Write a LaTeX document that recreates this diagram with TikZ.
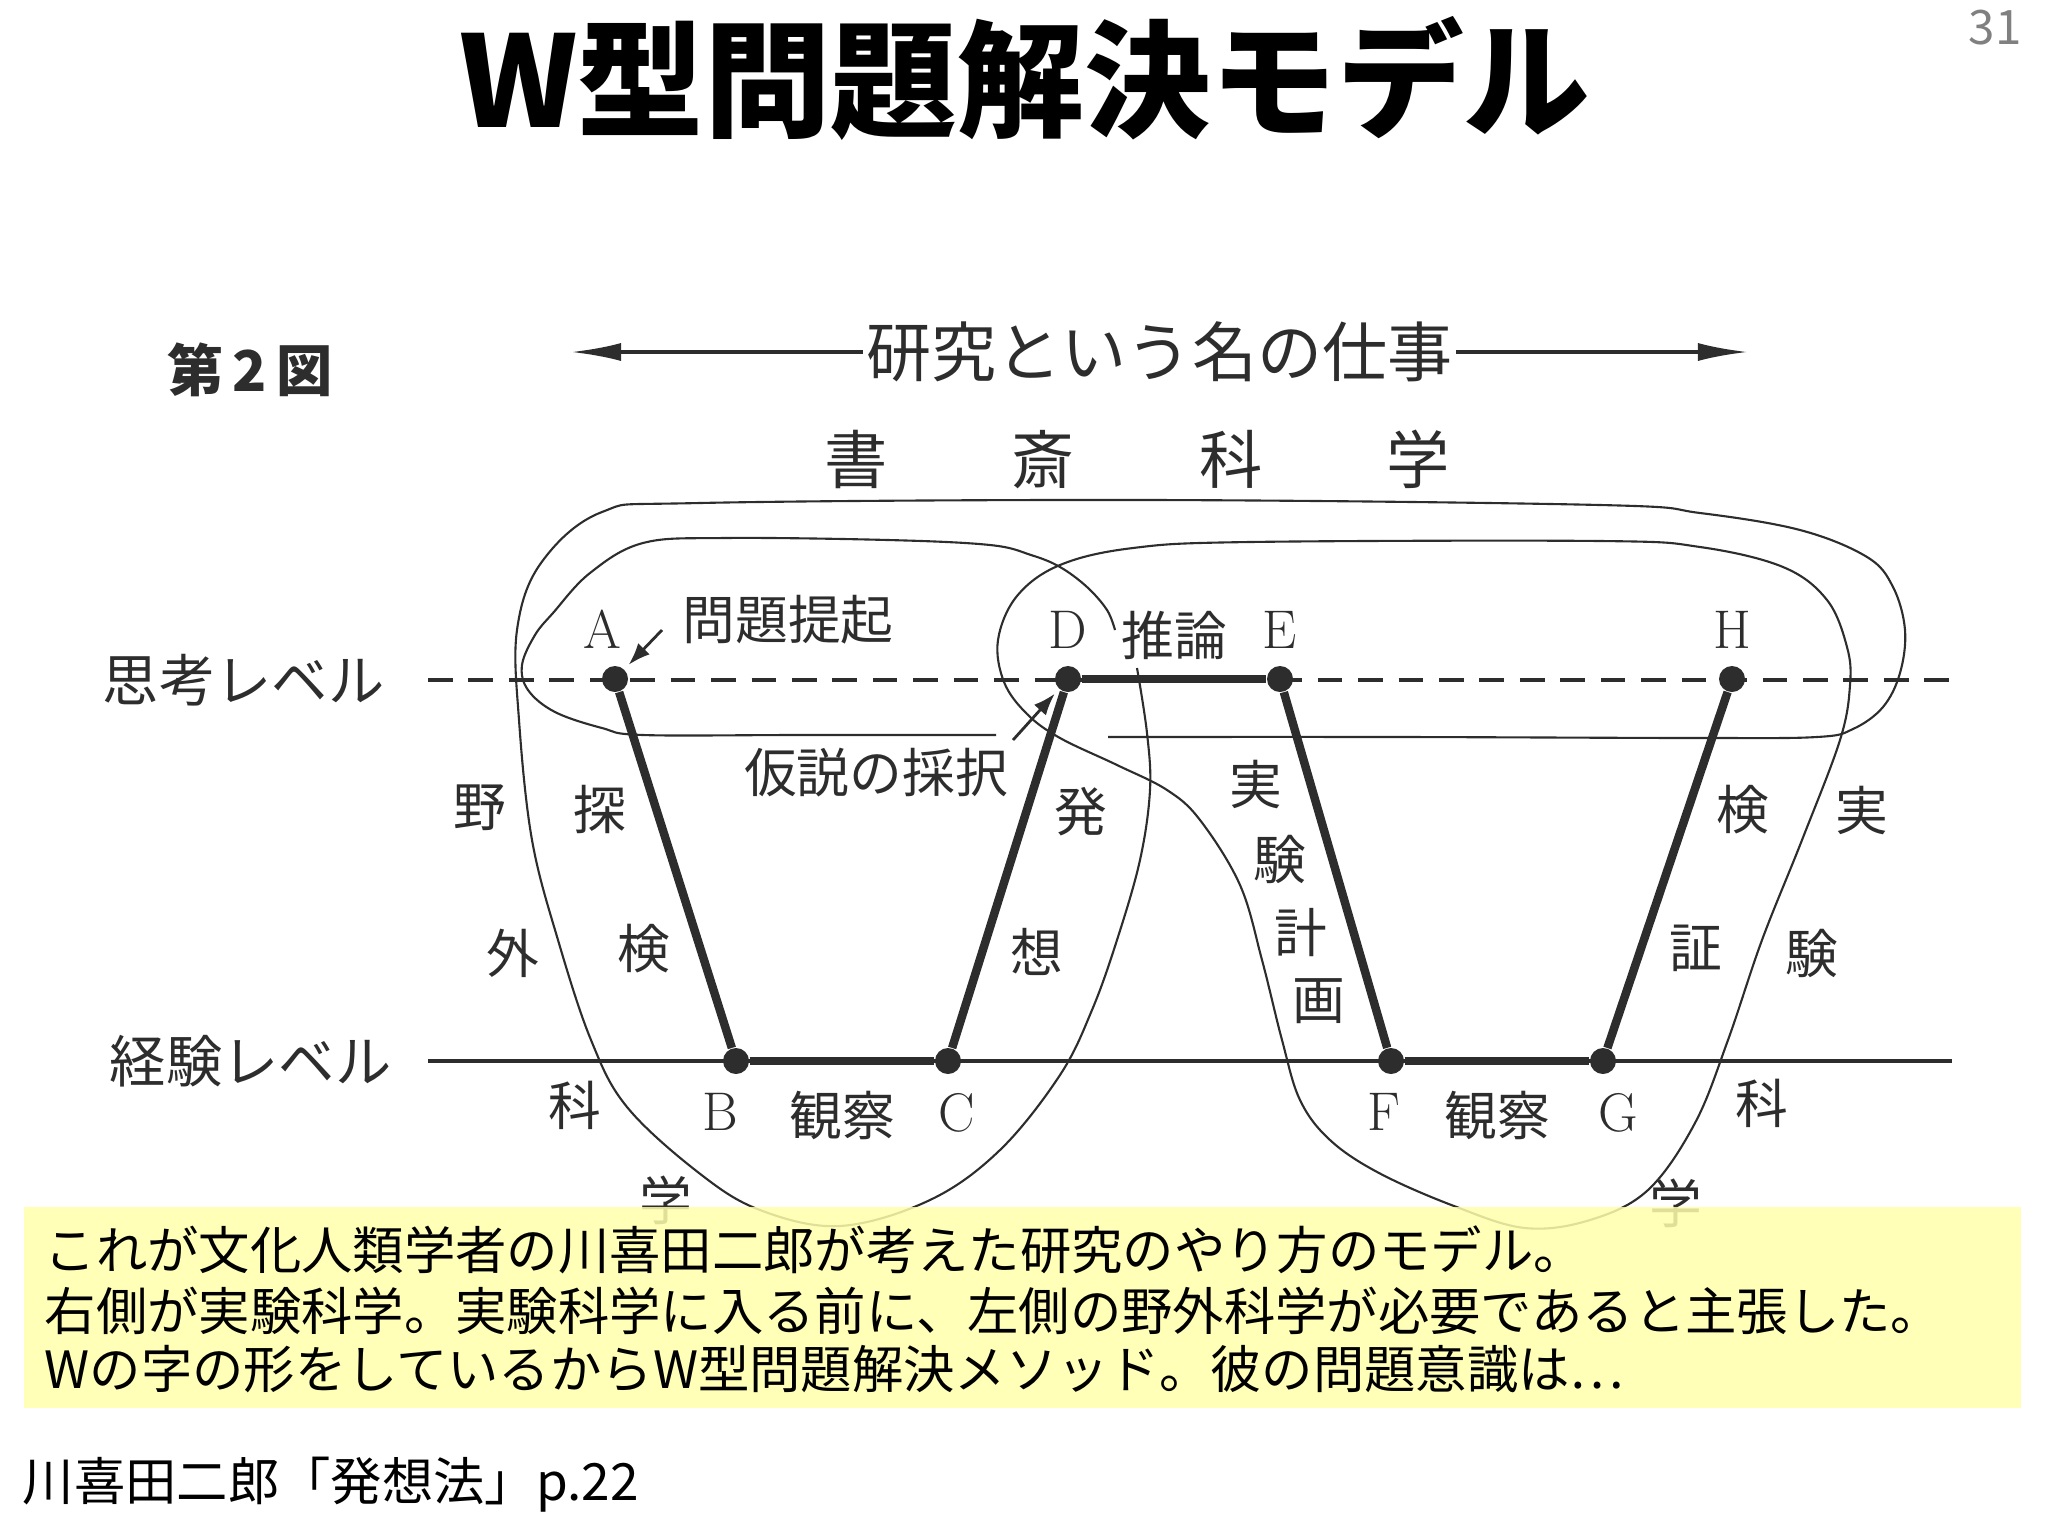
\documentclass[tikz,border=0pt]{standalone}
\usepackage{fontspec}
\newfontfamily\jp{Noto Sans CJK JP}
\usetikzlibrary{arrows.meta}
\usetikzlibrary{positioning}

\definecolor{ink}{RGB}{45,45,45}
\definecolor{memo}{RGB}{255,255,170}

\tikzset{
  wdot/.style={circle,fill=ink,inner sep=0pt,minimum size=2.6mm},
  wline/.style={draw=ink,line width=2.4pt},
  ringline/.style={draw=ink,line width=0.6pt},
  ptlabel/.style={text=ink,inner sep=0pt,font=\fontsize{15.5}{15.5}\selectfont},
  kanji/.style={text=ink,inner sep=0pt,font=\jp\fontsize{15}{15}\selectfont},
  lvtext/.style={text=ink,inner sep=0pt,font=\jp\fontsize{16}{16}\selectfont},
  memotext/.style={inner sep=0pt,anchor=west,font=\jp\fontsize{14.6}{14.6}\selectfont},
  smallarrow/.style={draw=ink,line width=0.8pt,-{Latex[length=2.2mm,width=1.6mm]},shorten >=0.6mm},
  hdarrow/.style={draw=ink,line width=1pt,{Latex[length=5mm,width=1.8mm]}-{Latex[length=5mm,width=1.8mm]}}
}

\begin{document}
\begin{tikzpicture}[x=0.01cm,y=-0.01cm]
   \useasboundingbox (0,0) rectangle (2048,1536);
   % title and page number
   \node (title) at (1025,78) {\jp\bfseries\fontsize{36}{36}\selectfont W型問題解決モデル};
   \node[text=black!50] (page) at (1995,28) {\jp\fontsize{13.5}{13.5}\selectfont 31};

   % header of the figure
   \node[kanji,font=\jp\bfseries\fontsize{16}{16}\selectfont] (fig) at (250,370) {第\,2\,図};
   \coordinate (hd_l) at (571,352);
   \coordinate (hd_r) at (1748,352);
   \draw[hdarrow] (hd_l) -- node[kanji,fill=white,inner xsep=1pt,font=\jp\fontsize{18.5}{18.5}\selectfont] (work) {研究という名の仕事} (hd_r);
   \node[kanji,font=\jp\fontsize{18}{18}\selectfont] (shosai) at (1137,459) {書\hspace{12.4mm}斎\hspace{12.4mm}科\hspace{12.4mm}学};

   % the two levels
   \coordinate (th_l) at (428,680);
   \coordinate (th_r) at (1952,680);
   \coordinate (ex_l) at (428,1061);
   \coordinate (ex_r) at (1952,1061);
   \draw[ink,line width=1.1pt,dash pattern=on 7pt off 4.5pt] (th_l) -- (th_r);
   \draw[ink,line width=1.2pt] (ex_l) -- (ex_r);
   \node[lvtext,left=4.3mm of th_l] (think) {思考レベル};
   \node[lvtext,left=3.6mm of ex_l] (exper) {経験レベル};

   % loops
   \draw[ringline] plot[smooth,tension=0.6] coordinates {(1108,737) (1400,737) (1700,738) (1817,737) (1853,729) (1883,707) (1900,673) (1905,630) (1893,587) (1867,557) (1800,530) (1700,513) (1600,505) (1150,500) (700,503) (602,512) (541,563) (517,630) (519,720) (532,840) (558,940) (591,1040) (627,1107) (699,1173) (760,1210) (840,1226) (930,1200) (1000,1150) (1060,1075) (1092,1010) (1117,940) (1140,860) (1150,790) (1147,733) (1137,668)};
   \draw[ringline] plot[smooth,tension=0.6] coordinates {(996,735) (800,735) (643,735) (602,728) (555,712) (528,690) (522,665) (535,635) (553,613) (590,573) (643,543) (725,538) (888,540) (990,545) (1031,555) (1060,567) (1087,587) (1107,610) (1115,630)};
   \draw[ringline] plot[smooth cycle,tension=0.6] coordinates {(1200,820) (1167,790) (1117,765) (1060,738) (1027,714) (1004,682) (998,640) (1017,596) (1060,565) (1133,548) (1250,542) (1600,541) (1700,547) (1783,567) (1827,600) (1847,647) (1850,685) (1840,740) (1802,840) (1762,940) (1728,1040) (1695,1123) (1648,1190) (1590,1220) (1525,1228) (1454,1206) (1379,1173) (1330,1140) (1300,1100) (1282,1040) (1262,960) (1240,885)};

   % field science / experimental science
   \node[kanji] (ya) at (480,808) {野};
   \node[kanji] (gai) at (513,953) {外};
   \node[kanji] (ka_l) at (575,1105) {科};
   \node[kanji] (gaku_l) at (666,1200) {学};
   \node[kanji] (jitsu) at (1862,810) {実};
   \node[kanji] (ken_r) at (1812,953) {験};
   \node[kanji] (ka_r) at (1762,1103) {科};
   \node[kanji] (gaku_r) at (1676,1203) {学};

   % the W
   \node[wdot] (p_A) at (615,679) {};
   \node[wdot] (p_B) at (736,1061) {};
   \node[wdot] (p_C) at (948,1061) {};
   \node[wdot] (p_D) at (1068,679) {};
   \node[wdot] (p_E) at (1280,679) {};
   \node[wdot] (p_F) at (1391,1061) {};
   \node[wdot] (p_G) at (1603,1061) {};
   \node[wdot] (p_H) at (1732,679) {};
   \path[wline]
    (p_A) edge node[kanji,pos=.33,left=2.6mm] {探} node[kanji,pos=.72,left=2.6mm] {検} (p_B)
    (p_B) edge node[kanji,below=2.6mm] {観察} (p_C)
    (p_C) edge node[kanji,pos=.27,right=2.4mm] {想} node[kanji,pos=.665,right=2.4mm] {発} (p_D)
    (p_D) edge node[kanji,above=1.5mm] {推論} (p_E)
    (p_E) edge node[kanji,pos=.26,left=2.4mm] {実} node[kanji,pos=.47,left=2.2mm] {験}
               node[kanji,pos=.675,left=2.2mm] {計} node[kanji,pos=.87,left=2.4mm] {画} (p_F)
    (p_F) edge node[kanji,below=2.6mm] {観察} (p_G)
    (p_G) edge node[kanji,pos=.28,right=2.4mm] {証} node[kanji,pos=.67,right=2.4mm] {検} (p_H);

   \node[ptlabel,above=1.6mm of p_A,xshift=-1.3mm] (l_A) {A};
   \node[ptlabel,below=1.8mm of p_B,xshift=-1.6mm] (l_B) {B};
   \node[ptlabel,below=1.8mm of p_C,xshift=0.9mm] (l_C) {C};
   \node[ptlabel,above=1.6mm of p_D] (l_D) {D};
   \node[ptlabel,above=1.6mm of p_E] (l_E) {E};
   \node[ptlabel,below=1.8mm of p_F,xshift=-0.7mm] (l_F) {F};
   \node[ptlabel,below=1.8mm of p_G,xshift=1.5mm] (l_G) {G};
   \node[ptlabel,above=1.6mm of p_H] (l_H) {H};

   \node[kanji] (t_mondai) at (788,620) {問題提起};
   \coordinate (m_tail) at (662,630);
   \draw[smallarrow] (m_tail) -- (p_A);
   \node[kanji] (t_kasetsu) at (876,773) {仮説の採択};
   \coordinate (k_tail) at (1013,740);
   \draw[smallarrow] (k_tail) -- (p_D);

   % comment box
   \fill[memo,fill opacity=0.85] (24,1207) rectangle (2021,1408);
   \node[memotext] (n_1) at (44,1250) {これが文化人類学者の川喜田二郎が考えた研究のやり方のモデル。};
   \node[memotext] (n_2) at (44,1311) {右側が実験科学。実験科学に入る前に、左側の野外科学が必要であると主張した。};
   \node[memotext] (n_3) at (44,1369) {Wの字の形をしているからW型問題解決メソッド。彼の問題意識は…};
   \node[memotext] (src) at (22,1485) {川喜田二郎「発想法」p.22};
\end{tikzpicture}
\end{document}
